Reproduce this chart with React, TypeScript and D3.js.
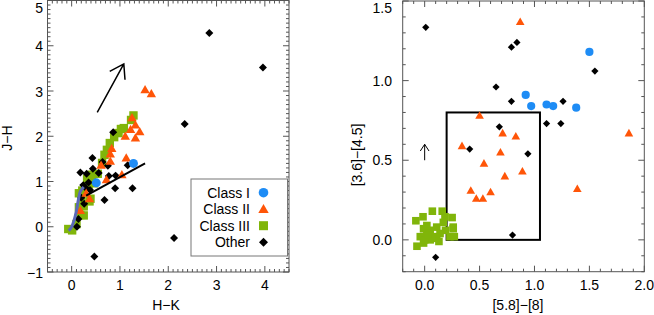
import React from 'react';
import * as d3 from 'd3';

// ---- left panel: J-H vs H-K ----
const leftOther: [number, number][] = [
  [2.85, 4.28], [3.96, 3.52], [2.34, 2.27], [2.12, -0.25], [0.47, -0.66],
  [0.86, 2.09], [0.43, 1.52], [0.64, 1.43], [0.75, 1.35], [1.16, 1.36],
  [0.44, 1.28], [0.56, 1.19], [0.18, 1.2], [0.31, 1.17], [0.77, 1.12],
  [0.91, 1.13], [0.35, 0.98], [0.24, 0.92], [0.29, 0.86], [0.38, 0.81],
  [0.9, 0.85], [1.26, 0.85], [0.2, 0.64], [0.26, 0.51], [0.68, 0.59],
  [0.14, 0.17], [0.11, 0.0],
];
const leftClassI: [number, number][] = [[1.28, 1.4], [0.51, 0.97]];
const leftClassII: [number, number][] = [
  [1.52, 3.03], [1.65, 2.94], [1.25, 2.41], [1.32, 2.25], [1.22, 2.15],
  [1.41, 2.1], [1.11, 2.0], [1.32, 1.96], [0.83, 1.73], [0.8, 1.61],
  [0.8, 1.45], [1.13, 1.52], [1.04, 1.15], [0.72, 1.04], [0.61, 1.36],
  [0.3, 0.74], [0.37, 0.62], [0.18, 0.36],
];
const leftClassIII: [number, number][] = [
  [-0.07, -0.05], [0.01, -0.08], [0.1, 0.06], [0.18, 0.26], [0.25, 0.25],
  [0.15, 0.43], [0.25, 0.45], [0.2, 0.59], [0.15, 0.74], [0.22, 0.8],
  [0.37, 0.56], [0.39, 0.62], [0.32, 1.06], [0.42, 1.07], [0.46, 0.96],
  [0.35, 0.93], [0.42, 1.15], [0.37, 1.0], [0.54, 1.17], [0.63, 1.41],
  [0.68, 1.59], [0.73, 1.7], [0.79, 1.85], [0.88, 1.98], [0.97, 2.07],
  [1.02, 2.16], [1.08, 2.18], [1.23, 2.36], [1.28, 2.46],
];
const dwarfLocus: [number, number][] = [
  [-0.06, -0.09], [0.0, 0.0], [0.05, 0.14], [0.1, 0.36], [0.14, 0.6], [0.18, 0.78], [0.25, 0.88],
];
const cttsLocus: [number, number][] = [[0.3, 0.69], [1.52, 1.4]];
const leftVector: [number, number][] = [[0.53, 2.53], [1.08, 3.6]];

// ---- right panel: [3.6]-[4.5] vs [5.8]-[8] ----
const rightOther: [number, number][] = [
  [0.01, 1.335], [0.79, 1.21], [0.84, 1.24], [1.55, 1.06], [0.65, 0.96],
  [0.79, 0.87], [1.26, 0.87], [1.11, 0.73], [1.24, 0.73], [0.68, 0.71],
  [0.41, 0.57], [0.94, 0.54], [0.8, 0.03], [0.1, -0.11],
];
const rightClassI: [number, number][] = [
  [1.5, 1.18], [0.92, 0.91], [0.97, 0.84], [1.11, 0.85], [1.17, 0.84], [1.38, 0.83],
];
const rightClassII: [number, number][] = [
  [0.87, 1.37], [0.5, 0.78], [0.34, 0.59], [0.71, 0.67], [0.83, 0.65],
  [0.69, 0.55], [0.54, 0.48], [0.89, 0.43], [0.73, 0.4], [0.42, 0.31],
  [0.6, 0.3], [0.47, 0.26], [0.53, 0.26], [1.39, 0.32], [1.86, 0.67],
];
const rightClassIII: [number, number][] = [
  [-0.08, 0.12], [0.07, 0.18], [0.16, 0.18], [0.25, 0.14], [-0.01, 0.07],
  [0.05, 0.06], [0.11, 0.08], [0.19, 0.06], [0.26, 0.07], [-0.04, 0.02],
  [0.02, 0.04], [0.08, 0.02], [0.14, 0.04], [0.23, 0.02], [-0.07, -0.04],
  [-0.01, -0.02], [0.05, 0.0], [0.11, 0.01], [0.02, 0.09], [0.17, 0.11],
  [0.27, 0.02], [0.0, 0.0], [0.07, 0.01], [0.185, 0.145], [-0.015, 0.145],
  [0.26, 0.08], [0.03, 0.03], [0.13, -0.01],
];
const iracBox = { x0: 0.2, x1: 1.05, y0: 0.0, y1: 0.8 };
const rightVector: [number, number][] = [[0.0, 0.5], [0.0, 0.6]];

const leftXTicks = [0, 1, 2, 3, 4];
const leftYTicks = [-1, 0, 1, 2, 3, 4, 5];
const rightXTicks = [0, 0.5, 1, 1.5, 2];
const rightYTicks = [0, 0.5, 1, 1.5];

const legendLabels = ['Class I', 'Class II', 'Class III', 'Other'];

const BLUE = '#1e8cf5';
const ORANGE = '#ff5508';
const GREEN = '#80b50a';
const AXIS = '#555';
const FONT = '"Liberation Sans", Arial, sans-serif';

const diamond = (r: number) => `M0,${-r}L${r},0L0,${r}L${-r},0Z`;
const triangle = (r: number) => `M0,${-r}L${r},${r * 0.75}L${-r},${r * 0.75}Z`;

type Sc = d3.ScaleLinear<number, number>;

function Frame({ x, y, minor }: { x: Sc; y: Sc; minor: number }) {
  const [x0, x1] = x.range();
  const [y0, y1] = y.range();
  const vals = (s: Sc) => {
    const [a, b] = s.domain();
    return d3.range(Math.ceil(a / minor - 1e-6), Math.floor(b / minor + 1e-6) + 1).map((i) => +(i * minor).toFixed(6));
  };
  const isMajor = (v: number, step: number) => Math.abs(v / step - Math.round(v / step)) < 1e-6;
  const xStep = x.domain()[1] - x.domain()[0] > 3 ? 1 : 0.5;
  const yStep = y.domain()[1] - y.domain()[0] > 3 ? 1 : 0.5;
  return (
    <g stroke={AXIS} strokeWidth={1} fill="none">
      <rect x={x0} y={y1} width={x1 - x0} height={y0 - y1} />
      {vals(x).map((v) => {
        const L = isMajor(v, xStep) ? 6 : 3;
        const px = x(v);
        return (
          <g key={'x' + v}>
            <line x1={px} x2={px} y1={y0} y2={y0 - L} />
            <line x1={px} x2={px} y1={y1} y2={y1 + L} />
          </g>
        );
      })}
      {vals(y).map((v) => {
        const L = isMajor(v, yStep) ? 6 : 3;
        const py = y(v);
        return (
          <g key={'y' + v}>
            <line x1={x0} x2={x0 + L} y1={py} y2={py} />
            <line x1={x1} x2={x1 - L} y1={py} y2={py} />
          </g>
        );
      })}
    </g>
  );
}

function Arrow({ pts, x, y, head, width }: { pts: [number, number][]; x: Sc; y: Sc; head: number; width: number }) {
  const [a, b] = pts;
  const ax = x(a[0]), ay = y(a[1]), bx = x(b[0]), by = y(b[1]);
  const ang = Math.atan2(by - ay, bx - ax);
  const spread = (33 * Math.PI) / 180;
  const barb = (s: number) => [bx - head * Math.cos(ang + s), by - head * Math.sin(ang + s)];
  const [p1x, p1y] = barb(spread);
  const [p2x, p2y] = barb(-spread);
  return (
    <path
      d={`M${ax},${ay}L${bx},${by}M${p1x},${p1y}L${bx},${by}L${p2x},${p2y}`}
      stroke="#000"
      strokeWidth={width}
      fill="none"
    />
  );
}

function Marks({ x, y, other, c1, c2, c3, s }: {
  x: Sc; y: Sc; other: [number, number][]; c1: [number, number][]; c2: [number, number][]; c3: [number, number][]; s: number;
}) {
  return (
    <g>
      {c3.map((d, i) => (
        <rect key={'s' + i} x={x(d[0]) - s} y={y(d[1]) - s} width={2 * s} height={2 * s} fill={GREEN} />
      ))}
      {other.map((d, i) => (
        <path key={'o' + i} d={diamond(s * 0.95)} transform={`translate(${x(d[0])},${y(d[1])})`} fill="#000" />
      ))}
      {c2.map((d, i) => (
        <path key={'t' + i} d={triangle(s + 0.5)} transform={`translate(${x(d[0])},${y(d[1])})`} fill={ORANGE} />
      ))}
      {c1.map((d, i) => (
        <circle key={'c' + i} cx={x(d[0])} cy={y(d[1])} r={s + 0.3} fill={BLUE} />
      ))}
    </g>
  );
}

export default function App() {
  const lx = d3.scaleLinear().domain([-0.5, 4.5]).range([47.5, 289]);
  const ly = d3.scaleLinear().domain([-1, 5]).range([272, 0.5]);
  const rx = d3.scaleLinear().domain([-0.2, 2.0]).range([402.7, 644.3]);
  const ry = d3.scaleLinear().domain([-0.2, 1.5]).range([271.7, 1]);

  const locus = d3.line<[number, number]>().x((d) => lx(d[0])).y((d) => ly(d[1])).curve(d3.curveCatmullRom);
  const ctts = d3.line<[number, number]>().x((d) => lx(d[0])).y((d) => ly(d[1]));

  const legendMarks = [
    (cx: number, cy: number) => <circle cx={cx} cy={cy} r={4.8} fill={BLUE} />,
    (cx: number, cy: number) => <path d={triangle(5.2)} transform={`translate(${cx},${cy})`} fill={ORANGE} />,
    (cx: number, cy: number) => <rect x={cx - 4.5} y={cy - 4.5} width={9} height={9} fill={GREEN} />,
    (cx: number, cy: number) => <path d={diamond(4.5)} transform={`translate(${cx},${cy})`} fill="#000" />,
  ];

  return (
    <svg width={654} height={315} style={{ position: 'absolute', left: 0, top: 0, background: '#fff' }} fontFamily={FONT}>
      {/* left panel */}
      <Marks x={lx} y={ly} other={leftOther} c1={leftClassI} c2={leftClassII} c3={leftClassIII} s={4.2} />
      <path d={locus(dwarfLocus) || ''} stroke="#5a68b8" strokeWidth={3} fill="none" />
      <path d={ctts(cttsLocus) || ''} stroke="#000" strokeWidth={2} fill="none" />
      <Arrow pts={leftVector} x={lx} y={ly} head={16} width={1.5} />
      <Frame x={lx} y={ly} minor={0.1} />
      {leftXTicks.map((v) => (
        <text key={v} x={lx(v)} y={290} fontSize={14} textAnchor="middle">{v}</text>
      ))}
      {leftYTicks.map((v) => (
        <text key={v} x={43} y={Math.max(ly(v) + 5.5, 13)} fontSize={14} textAnchor="end">{v < 0 ? '\u2212' + Math.abs(v) : v}</text>
      ))}
      <text x={166} y={310} fontSize={14} textAnchor="middle">H{'\u2212'}K</text>
      <text transform="translate(12,138) rotate(-90)" fontSize={14} textAnchor="middle">J{'\u2212'}H</text>

      {/* legend */}
      <rect x={191} y={179} width={96.5} height={77} fill="#fff" stroke="#777" strokeWidth={1} />
      {legendLabels.map((l, i) => (
        <g key={l}>
          <text x={250} y={197.5 + i * 16.5} fontSize={14} textAnchor="end">{l}</text>
          {legendMarks[i](263.5, 192.7 + i * 16.5)}
        </g>
      ))}

      {/* right panel */}
      <rect
        x={rx(iracBox.x0)}
        y={ry(iracBox.y1)}
        width={rx(iracBox.x1) - rx(iracBox.x0)}
        height={ry(iracBox.y0) - ry(iracBox.y1)}
        fill="none"
        stroke="#000"
        strokeWidth={2}
      />
      <Marks x={rx} y={ry} other={rightOther} c1={rightClassI} c2={rightClassII} c3={rightClassIII} s={3.8} />
      <Arrow pts={rightVector} x={rx} y={ry} head={8} width={1} />
      <Frame x={rx} y={ry} minor={0.1} />
      {rightXTicks.map((v) => (
        <text key={v} x={rx(v)} y={290} fontSize={14} textAnchor="middle">{v.toFixed(1)}</text>
      ))}
      {rightYTicks.map((v) => (
        <text key={v} x={392} y={Math.max(ry(v) + 5, 13)} fontSize={14} textAnchor="end">{v.toFixed(1)}</text>
      ))}
      <text x={518} y={310} fontSize={14} textAnchor="middle">[5.8]{'\u2212'}[8]</text>
      <text transform="translate(362,155) rotate(-90)" fontSize={14} textAnchor="middle">[3.6]{'\u2212'}[4.5]</text>
    </svg>
  );
}
